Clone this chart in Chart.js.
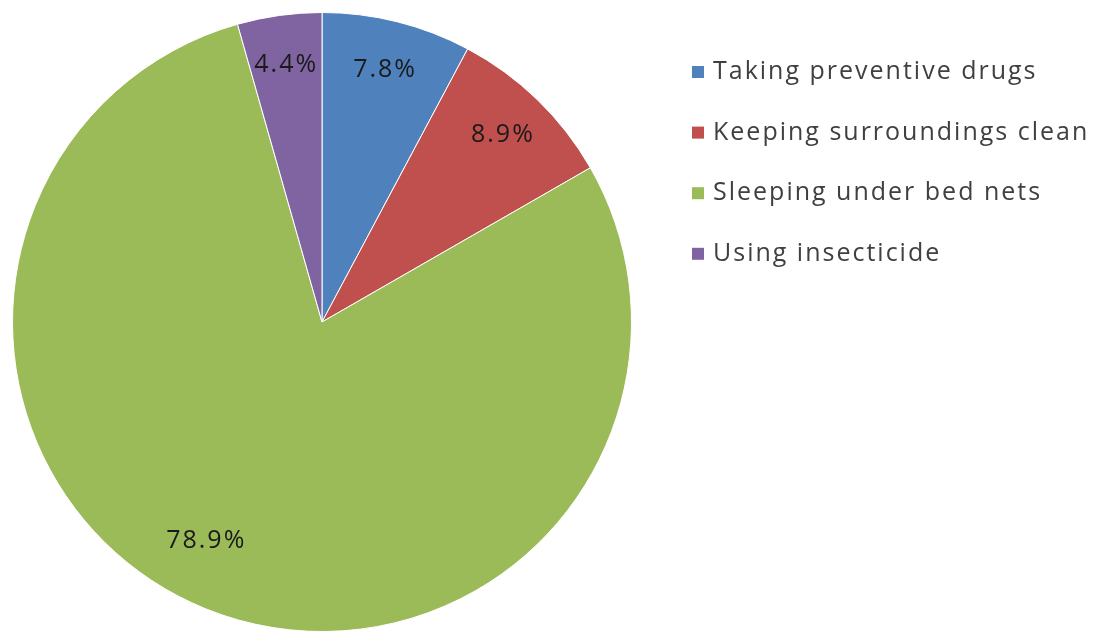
<!DOCTYPE html>
<html>
<head>
<meta charset="utf-8">
<script src="https://cdn.jsdelivr.net/npm/chart.js@4/dist/chart.umd.min.js"></script>
<style>
  html, body { margin: 0; padding: 0; background: #fff; }
  #wrap { width: 1094px; height: 635px; }
</style>
</head>
<body>
<div id="wrap"><canvas id="pie"></canvas></div>
<script>
const labels = ['Taking preventive drugs', 'Keeping surroundings clean', 'Sleeping under bed nets', 'Using insecticide'];
const shares = [7.8, 8.9, 78.9, 4.4];
const colors = ['#4F81BD', '#C0504D', '#9BBB59', '#8064A2'];

// percentage text inside each slice
const sliceLabels = {
    id: 'sliceLabels',
    afterDatasetsDraw(chart) {
        const ctx = chart.ctx;
        const meta = chart.getDatasetMeta(0);
        ctx.save();
        ctx.font = '25px "Open Sans", sans-serif';
        ctx.letterSpacing = '2px';
        ctx.fillStyle = '#1a1a1a';
        ctx.textAlign = 'center';
        ctx.textBaseline = 'middle';
        meta.data.forEach((arc, i) => {
            const p = arc.getProps(['x', 'y', 'startAngle', 'endAngle', 'outerRadius'], true);
            // big slice label sits a little further round and further in
            const big = shares[i] > 50;
            const mid = (p.startAngle + p.endAngle) / 2 + (big ? 0.1 : 0);
            const r = p.outerRadius * (big ? 0.8 : 0.84);
            ctx.fillText(shares[i].toFixed(1) + '%', p.x + Math.cos(mid) * r, p.y + Math.sin(mid) * r);
        });
        ctx.restore();
    }
};

// legend on the right
const sideLegend = {
    id: 'sideLegend',
    afterDraw(chart) {
        const ctx = chart.ctx;
        ctx.save();
        ctx.font = '25px "Open Sans", sans-serif';
        ctx.letterSpacing = '2px';
        ctx.textBaseline = 'middle';
        chart.data.labels.forEach((text, i) => {
            const y = 72 + i * 60.6;
            ctx.fillStyle = colors[i];
            ctx.fillRect(692, y - 6, 12, 12);
            ctx.fillStyle = '#404040';
            ctx.fillText(text, 713, y);
        });
        ctx.restore();
    }
};

new Chart(document.getElementById('pie'), {
    type: 'pie',
    data: {
        labels: labels,
        datasets: [{
            data: shares,
            backgroundColor: colors,
            borderColor: '#ffffff',
            borderWidth: 1
        }]
    },
    options: {
        responsive: true,
        maintainAspectRatio: false,
        animation: false,
        layout: { padding: { left: 12, top: 12, right: 462, bottom: 3 } },
        plugins: {
            legend: { display: false },
            tooltip: { enabled: false }
        }
    },
    plugins: [sliceLabels, sideLegend]
});
</script>
</body>
</html>
